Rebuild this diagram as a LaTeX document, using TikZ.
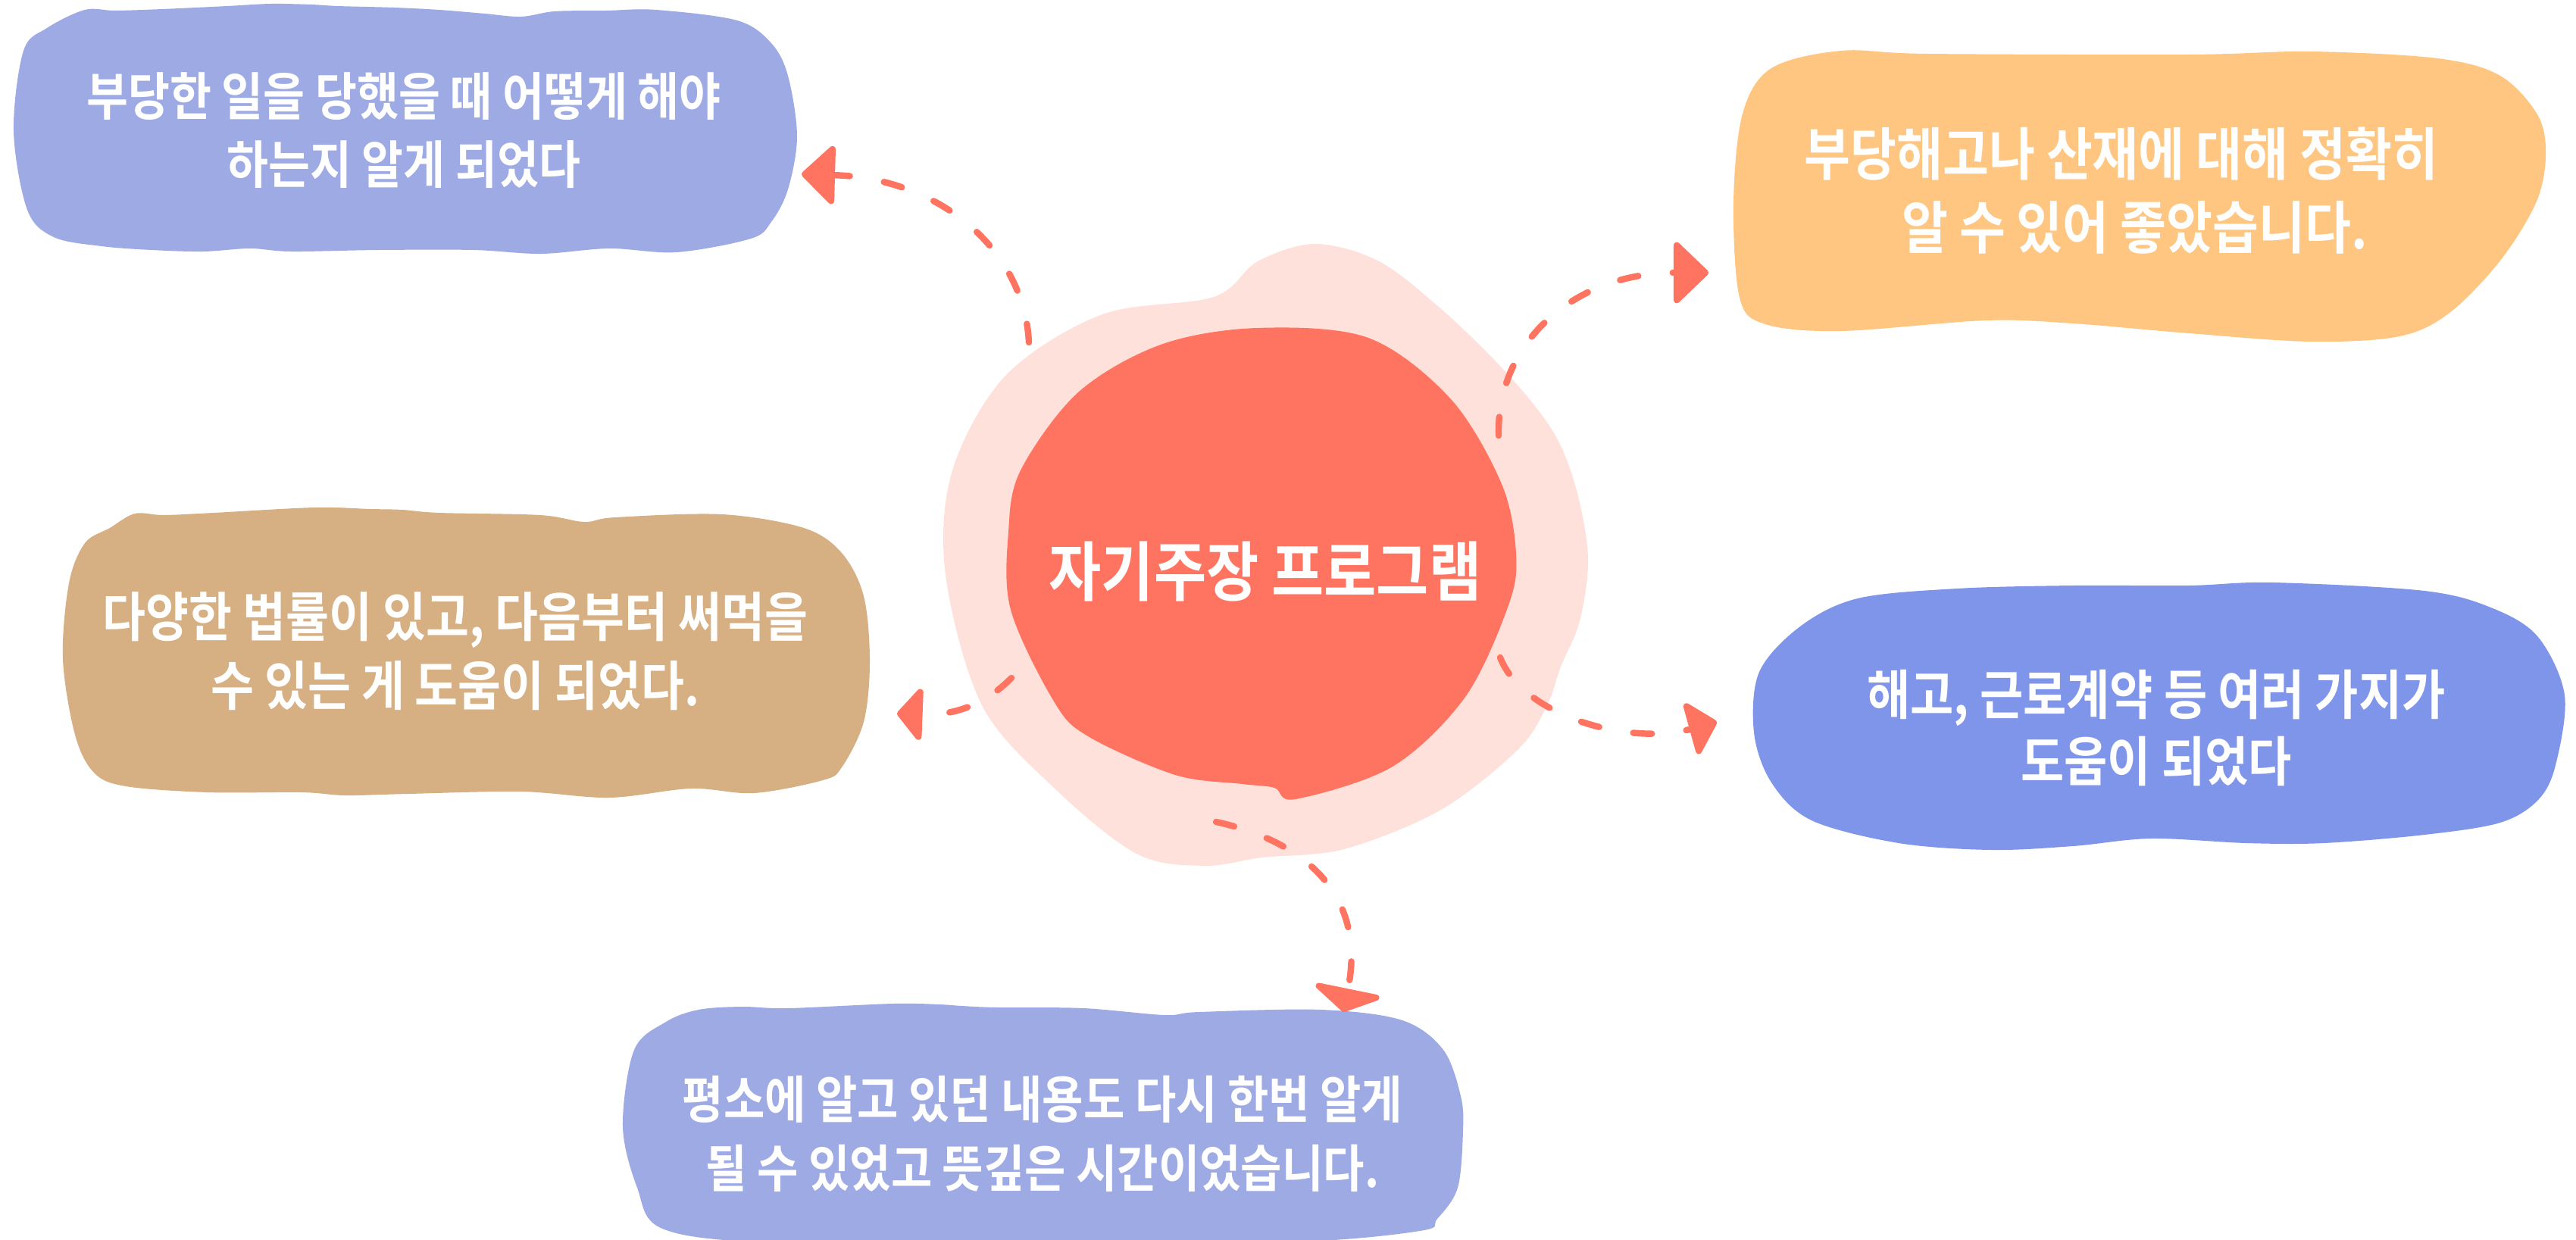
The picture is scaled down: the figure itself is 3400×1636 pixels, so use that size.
\documentclass[tikz,border=0pt]{standalone}
\usepackage{fontspec}
\newfontfamily\kr[FakeStretch=0.88]{Noto Sans CJK KR Bold}
\usetikzlibrary{arrows.meta}
\definecolor{lav}{HTML}{9DAAE3}
\definecolor{orng}{HTML}{FEC680}
\definecolor{tan}{HTML}{D6AF82}
\definecolor{blu}{HTML}{7F95EA}
\definecolor{coral}{HTML}{FF7461}
\definecolor{pinkbg}{HTML}{FFE1DC}
\begin{document}
\begin{tikzpicture}[x=0.01cm,y=-0.01cm,
  txt/.style={text=white, align=center, inner sep=0pt},
  blob/.style={smooth cycle, tension=0.55},
  conn/.style={draw=coral, line width=2.4pt, line cap=round, dash pattern=on 7pt off 13pt}]
\useasboundingbox (0,0) rectangle (3400,1636);
\clip (0,0) rectangle (3400,1636);
% central blobs
\fill[pinkbg] plot[blob] coordinates {(1602,392) (1660,345) (1736,322) (1822,346) (1910,415) (1991,495) (2050,570) (2080,644) (2096,736) (2085,820) (2060,880) (2042,931) (2004,989) (1902,1069) (1774,1121) (1666,1132) (1589,1143) (1500,1127) (1391,1040) (1296,931) (1248,759) (1257,621) (1328,495) (1455,415)};
\fill[coral] plot[blob] coordinates {(1659,433) (1806,446) (1915,527) (1982,639) (2001,731) (1991,799) (1934,920) (1838,1012) (1710,1055) (1682,1040) (1640,1035) (1551,1023) (1436,972) (1391,926) (1334,805) (1331,702) (1347,621) (1423,518) (1532,455)};
% box shapes
\fill[lav] plot[blob] coordinates {(112,13) (152,14) (214,12) (300,8) (357,5) (411,6) (446,8) (520,10) (580,13) (640,18) (688,22) (732,15) (800,14) (866,13) (973,27) (1018,57) (1040,100) (1052,180) (1040,250) (1018,293) (991,315) (893,333) (804,328) (714,335) (625,330) (500,330) (384,332) (330,328) (268,332) (200,330) (134,325) (71,313) (36,277) (18,173) (31,67) (62,37)};
\fill[orng] plot[blob] coordinates {(2430,67) (2544,71) (2889,72) (3050,68) (3217,77) (3300,100) (3350,153) (3360,207) (3347,268) (3300,344) (3233,413) (3167,444) (3050,451) (2889,440) (2736,427) (2621,423) (2430,437) (2330,428) (2296,393) (2288,267) (2300,150) (2338,90)};
\fill[tan] plot[blob] coordinates {(178,678) (216,680) (282,677) (415,670) (489,672) (531,673) (580,677) (713,680) (771,689) (812,683) (953,679) (1061,697) (1111,730) (1140,787) (1148,873) (1140,953) (1111,1013) (1086,1030) (995,1047) (912,1041) (804,1053) (688,1045) (539,1048) (456,1050) (398,1046) (274,1046) (166,1038) (124,1020) (99,970) (83,870) (91,770) (112,717) (145,697)};
\fill[blu] plot[blob] coordinates {(2452,790) (2583,777) (2736,773) (2889,773) (3000,769) (3200,780) (3290,803) (3350,841) (3385,918) (3373,1010) (3350,1056) (3300,1086) (3200,1102) (3067,1113) (2965,1113) (2839,1107) (2736,1117) (2628,1122) (2506,1113) (2391,1083) (2338,1033) (2315,967) (2322,887) (2376,827)};
\fill[lav] plot[blob] coordinates {(922,1333) (979,1329) (1040,1331) (1178,1325) (1239,1326) (1270,1328) (1316,1330) (1430,1331) (1537,1340) (1583,1336) (1744,1333) (1851,1347) (1905,1386) (1928,1447) (1931,1493) (1924,1568) (1897,1609) (1874,1625) (1700,1640) (1300,1645) (1000,1640) (872,1621) (841,1568) (822,1487) (837,1386) (879,1349)};
% texts
\node[txt, font=\kr\fontsize{24.3}{30}\selectfont] (tc) at (1670,754) {자기주장 프로그램};
\node[txt, font=\kr\fontsize{19.3}{25.6}\selectfont] (t1) at (533,172) {부당한 일을 당했을 때 어떻게 해야\\하는지 알게 되었다};
\node[txt, font=\kr\fontsize{21.4}{27.6}\selectfont] (t2) at (2800,252) {부당해고나 산재에 대해 정확히\\\hspace*{0.35cm}알 수 있어 좋았습니다.};
\node[txt, font=\kr\fontsize{20}{25.9}\selectfont] (t3) at (601,860) {다양한 법률이 있고, 다음부터 써먹을\\수 있는 게 도움이 되었다.};
\node[txt, font=\kr\fontsize{20.1}{25.3}\selectfont] (t4) at (2846,961) {해고, 근로계약 등 여러 가지가\\도움이 되었다};
\node[txt, font=\kr\fontsize{19.1}{25.9}\selectfont] (t5) at (1376,1497) {평소에 알고 있던 내용도 다시 한번 알게\\될 수 있었고 뜻깊은 시간이었습니다.};
% connector ends
\coordinate (s1) at (1358,452); \coordinate (e1) at (1058,230);
\coordinate (s2) at (1978,575); \coordinate (e2) at (2255,360);
\coordinate (s3) at (1335,895); \coordinate (e3) at (1184,942);
\coordinate (s4) at (1980,868); \coordinate (e4) at (2266,953);
\coordinate (s5) at (1605,1085); \coordinate (e5) at (1773,1336);
\draw[conn, -{Triangle[length=0.46cm,width=0.86cm,round]}] (s1) .. controls (1352,330) and (1240,235) .. (e1);
\draw[conn, -{Triangle[length=0.48cm,width=0.90cm,round]}] (s2) .. controls (1975,450) and (2080,360) .. (e2);
\draw[conn, -{Triangle[length=0.35cm,width=0.80cm,round]}] (s3) .. controls (1300,930) and (1260,945) .. (e3);
\draw[conn, -{Triangle[length=0.39cm,width=0.80cm,round]}] (s4) .. controls (2010,945) and (2150,985) .. (e4);
\draw[conn, -{Triangle[length=0.32cm,width=1.05cm,round]}] (s5) .. controls (1720,1110) and (1805,1180) .. (e5);
\end{tikzpicture}
\end{document}
